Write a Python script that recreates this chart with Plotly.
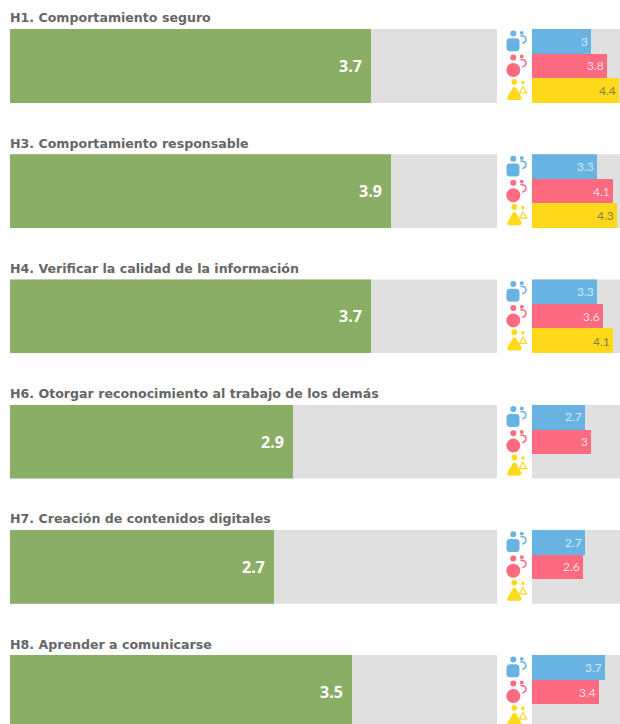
import plotly.graph_objects as go

titles = ["H1. Comportamiento seguro", "H3. Comportamiento responsable",
          "H4. Verificar la calidad de la información",
          "H6. Otorgar reconocimiento al trabajo de los demás",
          "H7. Creación de contenidos digitales", "H8. Aprender a comunicarse"]
overall = [3.7, 3.9, 3.7, 2.9, 2.7, 3.5]
blue_vals = [3, 3.3, 3.3, 2.7, 2.7, 3.7]
red_vals = [3.8, 4.1, 3.6, 3, 2.6, 3.4]
yellow_vals = [4.4, 4.3, 4.1, None, None, None]
scale_max = 5

W, H = 620, 724
GREEN, GREY = "#8bae66", "#e0e0e0"
BLUE, RED, YELLOW = "#69b3e3", "#fe6a80", "#ffd91a"
TITLE_C = "#666666"
L0, L1 = 10, 497
R0, R1 = 532, 620
PX_PER_UNIT_L = 97.7
PX_PER_UNIT_R = 19.8
TOP0, STEP, PH = 29, 125.2, 74

def X(v): return v / W
def Y(v): return 1 - v / H

fig = go.Figure()
shapes, annos = [], []

def circle(cx, cy, r, color):
    shapes.append(dict(type="circle", xref="paper", yref="paper", x0=X(cx - r), x1=X(cx + r),
                       y0=Y(cy + r), y1=Y(cy - r), fillcolor=color, line_width=0, layer="above"))

def path(pts, color, closed=True, width=0):
    parts = []
    for cmd, *xy in pts:
        c = " ".join(f"{X(xy[i]):.5f},{Y(xy[i + 1]):.5f}" for i in range(0, len(xy), 2))
        parts.append(f"{cmd}{c}")
    d = " ".join(parts) + (" Z" if closed else "")
    s = dict(type="path", xref="paper", yref="paper", path=d, layer="above")
    if closed and not width:
        s.update(fillcolor=color, line_width=0)
    else:
        s.update(fillcolor="rgba(0,0,0,0)", line=dict(color=color, width=width))
    shapes.append(s)

def hook(x, y, color):
    path([("M", x - 1.5, y - 2.6), ("Q", x + 4.2, y - 2.6, x + 4.2, y + 1), ("Q", x + 4, y + 4.2, x + 0.5, y + 4.8)],
         color, closed=False, width=1.5)
    circle(x, y - 5.6, 1.9, color)

def rounded_square(x0, y0, x1, y1, r, color):
    path([("M", x0 + r, y0), ("L", x1 - r, y0), ("Q", x1, y0, x1, y0 + r), ("L", x1, y1 - r),
          ("Q", x1, y1, x1 - r, y1), ("L", x0 + r, y1), ("Q", x0, y1, x0, y1 - r), ("L", x0, y0 + r),
          ("Q", x0, y0, x0 + r, y0)], color)

def icons(top):
    # blue
    circle(513.3, top + 4.5, 3, BLUE)
    rounded_square(506.5, top + 9.3, 519.5, top + 22.3, 3.5, BLUE)
    hook(521.8, top + 9.4, BLUE)
    # red
    circle(513.3, top + 28.6, 3, RED)
    circle(513.3, top + 41, 7, RED)
    hook(521.8, top + 33, RED)
    # yellow
    circle(514.3, top + 52.8, 2.9, YELLOW)
    path([("M", 512.6, top + 59), ("Q", 514.4, top + 56.8, 516.2, top + 59), ("L", 521.4, top + 68),
          ("Q", 522.4, top + 71, 519.4, top + 71), ("L", 509.2, top + 71),
          ("Q", 506.4, top + 71, 507.4, top + 68)], YELLOW)
    circle(522.8, top + 53.4, 1.8, YELLOW)
    path([("M", 522.8, top + 57.5), ("L", 526.7, top + 64), ("L", 519.6, top + 64)], YELLOW, closed=True, width=1.2)

layout_axes = {}
for i, title in enumerate(titles):
    top = TOP0 + i * STEP
    bottom = min(top + PH, H)
    frac = (bottom - top) / PH
    nl, nr = 2 * i + 1, 2 * i + 2
    for n, x0, x1, xr, yr in [
        (nl, L0, L1, [0, (L1 - L0) / PX_PER_UNIT_L], [-0.5 + frac, -0.5]),
        (nr, R0, R1, [0, (R1 - R0) / PX_PER_UNIT_R], [-0.5 + 3 * frac, -0.5]),
    ]:
        sx = "" if n == 1 else str(n)
        layout_axes[f"xaxis{sx}"] = dict(domain=[X(x0), X(x1)], range=xr, visible=False, fixedrange=True,
                                         anchor=f"y{sx}")
        layout_axes[f"yaxis{sx}"] = dict(domain=[Y(bottom), Y(top)], range=yr, visible=False, fixedrange=True,
                                         anchor=f"x{sx}")

    sl = "" if nl == 1 else str(nl)
    sr = str(nr)
    fig.add_trace(go.Bar(x=[scale_max], y=[0], width=1, orientation="h", marker=dict(color=GREY, line_width=0),
                         xaxis=f"x{sl}", yaxis=f"y{sl}", hoverinfo="skip"))
    fig.add_trace(go.Bar(x=[overall[i]], y=[0], width=1, orientation="h", marker=dict(color=GREEN, line_width=0),
                         xaxis=f"x{sl}", yaxis=f"y{sl}"))
    annos.append(dict(xref=f"x{sl}", yref=f"y{sl}", x=overall[i], y=0, xanchor="right", yanchor="middle", xshift=-7,
                      text=f"<b>{overall[i]}</b>", showarrow=False,
                      font=dict(family="Open Sans", size=16, color="white")))

    fig.add_trace(go.Bar(x=[scale_max] * 3, y=[0, 1, 2], width=1, orientation="h",
                         marker=dict(color=GREY, line_width=0), xaxis=f"x{sr}", yaxis=f"y{sr}", hoverinfo="skip"))
    for row, (vals, col, tc) in enumerate([(blue_vals, BLUE, "#d5eaf8"), (red_vals, RED, "#ffdde2"),
                                           (yellow_vals, YELLOW, "#857c50")]):
        v = vals[i]
        if v is None:
            continue
        fig.add_trace(go.Bar(x=[v], y=[row], width=1, orientation="h", marker=dict(color=col, line_width=0),
                             xaxis=f"x{sr}", yaxis=f"y{sr}"))
        annos.append(dict(xref=f"x{sr}", yref=f"y{sr}", x=v, y=row, xanchor="right", yanchor="middle", xshift=-1,
                          text=str(v), showarrow=False, font=dict(family="Lato", size=12, color=tc)))

    annos.append(dict(xref="paper", yref="paper", x=X(10), y=Y(top - 11), xanchor="left", yanchor="middle",
                      xshift=-2, text=f"<b>{title}</b>", showarrow=False,
                      font=dict(family="DejaVu Sans", size=12.6, color=TITLE_C)))
    icons(top)

fig.update_layout(width=W, height=H, margin=dict(l=0, r=0, t=0, b=0), paper_bgcolor="white", plot_bgcolor="white",
                  barmode="overlay", bargap=0, showlegend=False, shapes=shapes, annotations=annos, **layout_axes)
fig.write_html("out.html", config=dict(displayModeBar=False),
               post_script="document.body.style.margin='0';document.documentElement.style.overflow='hidden';window.dispatchEvent(new Event('resize'));")
